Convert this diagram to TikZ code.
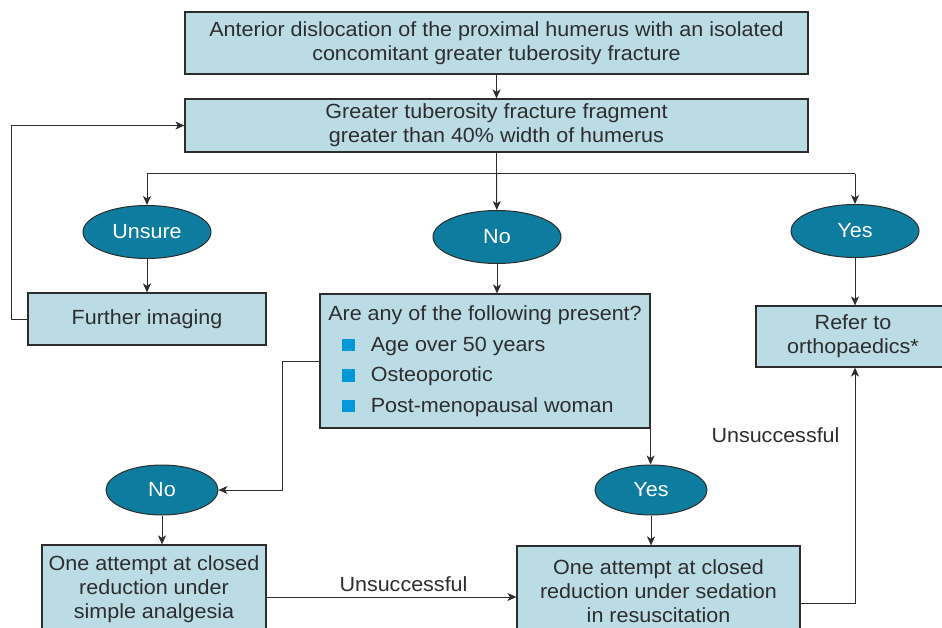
\documentclass[tikz,border=0pt]{standalone}
\usepackage{fontspec}
\setmainfont[FakeStretch=1.05]{Liberation Sans}
\usetikzlibrary{arrows.meta,positioning,shapes.geometric}
\definecolor{ink}{RGB}{45,45,45}
\definecolor{boxfill}{RGB}{187,220,229}
\definecolor{ovalfill}{RGB}{13,124,158}
\definecolor{tick}{RGB}{0,152,216}
\newcommand{\sqbullet}{\textcolor{tick}{\rule[0pt]{12.5pt}{12.5pt}}}
\tikzset{
  every picture/.style={color=ink, line width=1pt},
  box/.style={draw=ink, fill=boxfill, line width=1.2pt, inner sep=0pt, align=center, text=ink, font=\fontsize{20.5}{24}\selectfont},
  choice/.style={ellipse, draw=ink, fill=ovalfill, line width=1pt, inner sep=0pt, minimum width=128pt, minimum height=53pt, text=white, font=\fontsize{20.5}{24}\selectfont},
  smallchoice/.style={choice, minimum width=112pt, minimum height=50pt},
  flow/.style={-{Stealth[length=9pt,width=8pt,inset=2.5pt]}, line width=1pt},
  lbl/.style={font=\fontsize{20.5}{24}\selectfont, text=ink, inner sep=1pt},
}

\begin{document}
\begin{tikzpicture}[x=1pt,y=-1pt]
  \useasboundingbox (0,0) rectangle (942,628);
  % question boxes
  \node[box, minimum width=623pt, minimum height=62pt] (disloc) at (496.5,43) {Anterior dislocation of the proximal humerus with an isolated\\concomitant greater tuberosity fracture};
  \node[box, minimum width=623pt, minimum height=53pt] (frag) at (496.5,125.5) {Greater tuberosity fracture fragment\\greater than 40\% width of humerus};
  \node[choice] (unsure) at (147,232) {Unsure};
  \node[choice] (no) at (497,237) {No};
  \node[choice] (yes) at (855,231) {Yes};
  \node[box, minimum width=238pt, minimum height=52pt] (imaging) at (147,319) {Further imaging};
  \node[box, minimum width=330pt, minimum height=134pt, align=left] (present) at (485,361) {Are any of the following present?\\[6.5pt]
    \hspace{14pt}\sqbullet\hspace{16pt}Age over 50 years\\[6.5pt]
    \hspace{14pt}\sqbullet\hspace{16pt}Osteoporotic\\[6.5pt]
    \hspace{14pt}\sqbullet\hspace{16pt}Post-menopausal woman};
  \node[box, minimum width=194pt, minimum height=61pt] (refer) at (853,336.5) {Refer to\\orthopaedics*};
  \node[smallchoice] (no2) at (162,490) {No};
  \node[smallchoice] (yes2) at (651,490) {Yes};
  \node[box, minimum width=224pt, minimum height=88pt] (simple) at (154,589) {One attempt at closed\\reduction under\\simple analgesia};
  \node[box, minimum width=283pt, minimum height=91pt] (sedation) at (658.5,591.5) {One attempt at closed\\reduction under sedation\\in resuscitation};

  % connectors
  \draw[flow] (disloc) -- (frag);
  \draw (frag.south) -- ++(0,21) coordinate (split);
  \draw (split -| unsure) -- (split -| yes);
  \draw[flow] (split -| unsure) -- (unsure);
  \draw[flow] (split) -- (no);
  \draw[flow] (split -| yes) -- (yes);
  \draw[flow] (unsure) -- (imaging);
  \draw[flow] (imaging.west) -- ++(-16,0) |- (frag.west);
  \draw[flow] (no) -- (no |- present.north);
  \draw[flow] (yes) -- (yes |- refer.north);
  \draw[flow] (present.west) -- ++(-37,0) |- (no2.east);
  \draw[flow] (present.south east) -- (present.south east |- yes2.north);
  \draw[flow] (no2) -- (no2 |- simple.north);
  \draw[flow] (yes2) -- (yes2 |- sedation.north);
  \draw[flow] ([yshift=-8pt]simple.east) -- ([yshift=-8pt]simple.east -| sedation.west) node[lbl, midway, above=4pt, xshift=12pt] {Unsuccessful};
  \draw[flow] ([yshift=-12pt]sedation.east) -| (yes |- refer.south) node[lbl, pos=0.856, left=14pt] {Unsuccessful};
\end{tikzpicture}
\end{document}
